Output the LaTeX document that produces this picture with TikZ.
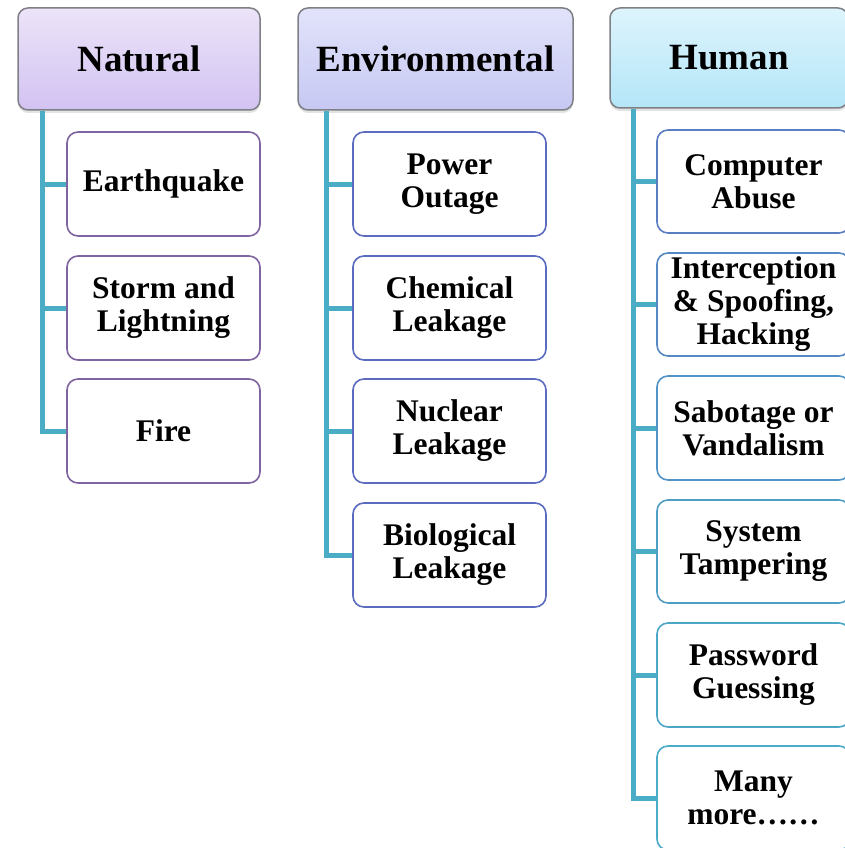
\documentclass[tikz,border=0pt]{standalone}
\usepackage{fontspec}
\setmainfont{Liberation Serif}
\usetikzlibrary{shadows,calc}

\definecolor{linkteal}{HTML}{4BACC6}
\definecolor{natline}{HTML}{8064A2}
\definecolor{envline}{HTML}{5B6BBF}
\definecolor{headline}{HTML}{7F7F86}
\definecolor{natTop}{HTML}{ECE4F8}
\definecolor{natBot}{HTML}{D2C2F2}
\definecolor{envTop}{HTML}{E2E3FA}
\definecolor{envBot}{HTML}{C6C8F3}
\definecolor{humTop}{HTML}{DDF4FC}
\definecolor{humBot}{HTML}{B4E6F8}
\definecolor{humA}{HTML}{5B7EC2}
\definecolor{humB}{HTML}{5689C4}
\definecolor{humC}{HTML}{5294C5}
\definecolor{humD}{HTML}{4F9EC6}
\definecolor{humE}{HTML}{4CA7C7}
\definecolor{humF}{HTML}{4BABC8}

\tikzset{
  head/.style={draw=headline, line width=1.5pt, rounded corners=10pt,
    minimum height=102pt, inner sep=0pt, align=center,
    font=\fontsize{37}{40}\selectfont\bfseries,
    drop shadow={shadow xshift=0pt, shadow yshift=-3pt, opacity=0.18, fill=black!60}},
  item/.style={draw=#1, fill=white, line width=1.6pt, rounded corners=11pt,
    minimum width=193pt, minimum height=104pt, inner sep=0pt, align=center,
    font=\fontsize{31.5}{33}\selectfont\bfseries},
  conn/.style={draw=linkteal, line width=5pt}
}

\begin{document}
\begin{tikzpicture}[x=1pt, y=-1pt]
\useasboundingbox (0,0) rectangle (845,848);
\fill[white] (0,0) rectangle (845,848);

% column headers
\node[head, minimum width=242pt, top color=natTop, bottom color=natBot] (nat) at (139,59) {Natural};
\node[head, minimum width=275pt, top color=envTop, bottom color=envBot] (env) at (435.5,59) {Environmental};
\node[head, minimum width=238pt, minimum height=100pt, top color=humTop, bottom color=humBot] (hum) at (729,58) {Human};

% natural hazards
\node[item=natline] (n1) at (163.5,184) {Earthquake};
\node[item=natline] (n2) at (163.5,308) {Storm and\\Lightning};
\node[item=natline] (n3) at (163.5,431) {Fire};

% environmental hazards
\node[item=envline] (e1) at (449.5,184) {Power\\Outage};
\node[item=envline] (e2) at (449.5,308) {Chemical\\Leakage};
\node[item=envline] (e3) at (449.5,431) {Nuclear\\Leakage};
\node[item=envline] (e4) at (449.5,555) {Biological\\Leakage};

% human hazards
\node[item=humA, minimum height=103pt] (h1) at (753.5,181.5) {Computer\\Abuse};
\node[item=humB, minimum height=103pt] (h2) at (753.5,304.5) {Interception\\\& Spoofing,\\Hacking};
\node[item=humC, minimum height=104pt] (h3) at (753.5,428) {Sabotage or\\Vandalism};
\node[item=humD, minimum height=103pt] (h4) at (753.5,551.5) {System\\Tampering};
\node[item=humE, minimum height=104pt] (h5) at (753.5,675) {Password\\Guessing};
\node[item=humF, minimum height=104pt] (h6) at (753.5,798) {Many\\more……};

% trunk lines
\coordinate (nt) at ($(nat.south west)+(25,0)$);
\coordinate (et) at ($(env.south west)+(29,0)$);
\coordinate (ht) at ($(hum.south west)+(24,0)$);

\draw[conn] (nt) |- (n3.west);
\foreach \c in {n1,n2} \draw[conn] (\c.west) -- (\c.west -| nt);

\draw[conn] (et) |- (e4.west);
\foreach \c in {e1,e2,e3} \draw[conn] (\c.west) -- (\c.west -| et);

\draw[conn] (ht) |- (h6.west);
\foreach \c in {h1,h2,h3,h4,h5} \draw[conn] (\c.west) -- (\c.west -| ht);
\end{tikzpicture}
\end{document}
